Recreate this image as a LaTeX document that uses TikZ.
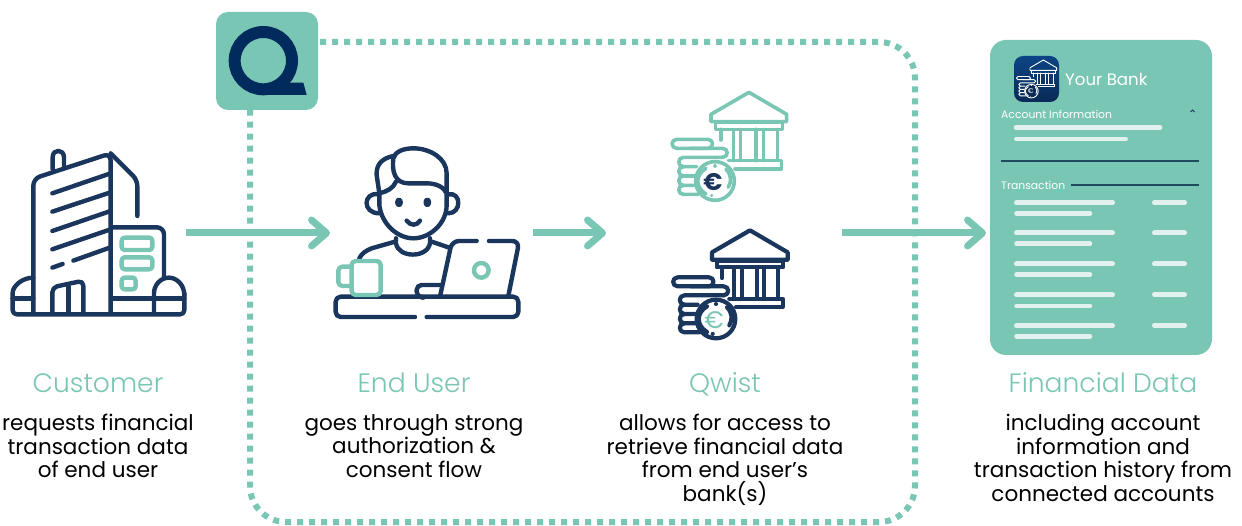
\documentclass[tikz,border=0pt]{standalone}
\usepackage{fontspec}
\setmainfont{Poppins}
\newfontfamily\headfont{Poppins Light}
\usetikzlibrary{arrows.meta}
\definecolor{teal1}{HTML}{7AC6B5}
\definecolor{navy1}{HTML}{1B365D}
\definecolor{qnavy}{HTML}{002B5C}
\definecolor{barc}{HTML}{E3F1EE}
\definecolor{rulec}{HTML}{1F4A5E}
\definecolor{icontop}{HTML}{0B4585}
\definecolor{iconbot}{HTML}{0A2A55}
\def\euroweight{}
\tikzset{
  flow/.style={draw=teal1,line width=7pt,-{Straight Barb[length=15pt,width=26pt,line width=7pt,round]}},
  frame/.style={draw=teal1,line width=6pt,dash pattern=on 6pt off 6pt},
  icon/.style={line width=4.4pt,line cap=round,line join=round,draw=navy1},
  iconteal/.style={line width=4.4pt,line cap=round,line join=round,draw=teal1},
  heading/.style={text=teal1,anchor=base,font=\headfont\fontsize{26.6}{28}\selectfont},
  body/.style={text=black,anchor=north,align=center,font=\fontsize{21.5}{23.5}\selectfont},
  bar/.style={draw=barc,line cap=round},
  paneltext/.style={text=white,anchor=west,inner sep=0pt}
}
% #1 x, #2 y, #3 unit, #4 bank colour, #5 euro colour, #6 line width, #7 euro size, #8 fill, #9 name
\newcommand{\bankicon}[9]{%
\begin{scope}[shift={(#1,#2)},x=#3pt,y=-#3pt,line width=#6pt,line join=round,line cap=round,draw=#4]
  \draw (297,37) -- (410,103) -- (410,125) -- (183,125) -- (183,103) -- cycle;
  \draw (197,128) rectangle (397,148);
  \draw (213,148) -- (213,180);
  \foreach \cx in {250,272,318,340,382} {\draw (\cx,148) -- (\cx,242);}
  \draw (235,242) -- (395,242) -- (395,267) -- (255,267);
  \draw (80,178) -- (174,178) .. controls (192,178) and (192,205) .. (174,205) -- (80,205) .. controls (62,205) and (62,178) .. (80,178) -- cycle;
  \draw (120,205) -- (218,205) .. controls (236,205) and (236,232) .. (218,232);
  \draw (218,232) -- (100,232) .. controls (82,232) and (82,260) .. (100,260) -- (140,260);
  \draw (100,260) .. controls (82,260) and (82,288) .. (100,288) -- (135,288);
  \draw (100,288) .. controls (82,288) and (82,316) .. (100,316) -- (135,316);
  \draw (100,316) .. controls (82,316) and (82,343) .. (100,343) -- (145,343);
  \draw[fill=#8] (195,303) circle (58);
  \draw (168,265) .. controls (135,285) and (135,322) .. (168,342);
  \draw (228,268) .. controls (245,285) and (245,305) .. (235,322);
  \draw (195,258) -- (195.1,258);
  \draw (185,347) -- (185.1,347);
  \node[inner sep=0pt,text=#5,font=\euroweight\fontsize{#7}{#7}\selectfont] (#9) at (189,305) {€};
\end{scope}}
\begin{document}
\begin{tikzpicture}[x=1pt,y=-1pt]
\useasboundingbox[fill=white] (0,0) rectangle (1242,526);

% dotted frame
\draw[frame,rounded corners=36pt] (320,42) -- (915,42) -- (915,522) -- (250,522) -- (250,105);

% building
\begin{scope}[shift={(0,130)},x=0.3333pt,y=-0.3333pt]
  \draw[iconteal,rounded corners=3pt] (365,323) rectangle (457,360);
  \draw[iconteal,rounded corners=3pt] (365,382) rectangle (457,418);
  \draw[iconteal,rounded corners=3pt] (365,443) rectangle (407,478);
  \begin{scope}[icon]
  \draw[rounded corners=7pt] (100,550) -- (100,146) -- (332,70) -- (332,550);
  \draw[rounded corners=6pt] (332,70) -- (412,150) -- (412,258);
  \draw (158,118) -- (158,82) .. controls (158,56) and (192,56) .. (192,82) -- (192,108);
  \draw (157,190) -- (332,130); \draw (157,245) -- (332,187);
  \draw (157,303) -- (332,243); \draw (157,358) -- (332,298);
  \draw (220,392) -- (332,352); \draw (157,413) -- (188,402);
  \draw[rounded corners=7pt] (335,292) -- (492,292) -- (492,440);
  \draw[rounded corners=5pt] (157,550) -- (157,472) -- (250,452) -- (250,550);
  \draw (205,470) -- (205,550);
  \draw[rounded corners=4pt] (100,443) .. controls (65,443) and (38,470) .. (38,500) -- (38,553) -- (553,553) -- (553,490);
  \draw (553,495) .. controls (553,465) and (530,443) .. (507,443) .. controls (482,443) and (462,465) .. (462,490) -- (462,550);
  \draw (38,505) -- (100,505); \draw (335,505) -- (553,505);
  \end{scope}
\end{scope}

% person
\begin{scope}[shift={(320,130)},x=0.3333pt,y=-0.3333pt]
  \begin{scope}[icon]
  \draw (178,190) -- (178,225) .. controls (185,285) and (235,325) .. (280,325) .. controls (330,325) and (380,280) .. (380,225) -- (380,130) .. controls (380,85) and (330,55) .. (280,55) .. controls (250,55) and (225,65) .. (220,85) .. controls (215,125) and (225,160) .. (265,160) -- (320,160) .. controls (350,160) and (372,172) .. (380,190);
  \draw (220,78) .. controls (185,85) and (168,105) .. (170,135) -- (178,190) .. controls (200,185) and (220,175) .. (228,155);
  \draw (175,193) .. controls (130,185) and (125,250) .. (178,250);
  \draw (385,193) .. controls (425,185) and (425,250) .. (385,250);
  \draw[fill=navy1] (237,217) ellipse (5 and 8);
  \draw[fill=navy1] (322,217) ellipse (5 and 8);
  \draw (260,272) .. controls (272,288) and (290,288) .. (300,272);
  \draw (228,325) -- (228,340) .. controls (235,385) and (322,385) .. (330,340) -- (330,325);
  \draw (225,335) -- (155,355) .. controls (138,362) and (125,370) .. (118,385);
  \draw (335,335) -- (385,352);
  \draw[rounded corners=7pt] (360,500) -- (396,333) -- (470,333);
  \draw[rounded corners=7pt] (507,333) -- (598,333) -- (565,498);
  \draw[rounded corners=5pt] (360,465) -- (290,465) -- (290,500) -- (310,503);
  \draw[rounded corners=5pt] (285,561) -- (47,561) -- (47,500) -- (595,500) -- (595,561) -- (320,561);
  \end{scope}
  \draw[iconteal] (484,421) circle (22);
  \draw[iconteal,rounded corners=4pt] (95,393) rectangle (182,495);
  \draw[iconteal,rounded corners=4pt] (95,410) -- (55,410) -- (55,468) -- (95,468);
\end{scope}

% banks
\def\euroweight{\bfseries}
\bankicon{650}{80}{0.3333}{teal1}{navy1}{3.6}{24}{white}{euroa}
\def\euroweight{}
\bankicon{651}{218}{0.3333}{navy1}{teal1}{4.2}{24}{white}{eurob}

% financial data panel
\node[fill=teal1,rounded corners=16pt,minimum width=222pt,minimum height=315pt,inner sep=0pt] (panel) at (1101,197.5) {};
\shade[top color=icontop,bottom color=iconbot,rounded corners=9pt] (1014,56) rectangle (1059,102);
\bankicon{1008.6}{55.7}{0.117}{white}{white}{0.9}{7}{iconbot}{euroc}
\node[paneltext,font=\fontsize{16.6}{19}\selectfont] (yourbank) at (1065,79) {Your Bank};
\node[paneltext,font=\fontsize{10.8}{12}\selectfont] (acct) at (1001,114) {Account Information};
\node[paneltext,font=\fontsize{10.8}{12}\selectfont] (trans) at (1001,185) {Transaction};
\draw[navy1,line width=1pt] (1190.5,112) -- (1192.5,110) -- (1194.5,112);
\draw[bar,line width=4.5pt] (1016,127.5) -- (1160,127.5);
\draw[bar,line width=3.8pt] (1016,139) -- (1126,139);
\draw[rulec,line width=1.7pt] (1001,160.7) -- (1199,160.7);
\draw[rulec,line width=1.7pt] (1071,185) -- (1199,185);
\foreach \a/\b/\c in {202.7/213.3/202.7,233/243.7/233,264/274.7/264,295/306/294.7,325.7/336.3/325.3} {
  \draw[bar,line width=5pt] (1016.5,\a) -- (1112.5,\a);
  \draw[bar,line width=4.5pt] (1016.5,\b) -- (1090,\b);
  \draw[bar,line width=5pt] (1154.5,\c) -- (1184.5,\c);
}

% logo
\node[fill=teal1,rounded corners=12pt,minimum width=102pt,minimum height=98pt,inner sep=0pt] (logo) at (267,61) {};
\begin{scope}[shift={(205,0)},x=0.3333pt,y=-0.3333pt]
  \draw[qnavy,line width=12pt] (175,182) circle (86);
  \fill[qnavy] (175,285) -- (305,285) -- (295,248) -- (240,248) -- cycle;
\end{scope}

% flow arrows
\coordinate (a1s) at (186,233); \coordinate (a1e) at (330,233);
\coordinate (a2s) at (533,233); \coordinate (a2e) at (606,233);
\coordinate (a3s) at (842,233); \coordinate (a3e) at (986,233);
\draw[flow] (a1s) -- (a1e);
\draw[flow] (a2s) -- (a2e);
\draw[flow] (a3s) -- (a3e);

% labels
\node[heading] (h1) at (98,392) {Customer};
\node[heading] (h2) at (414,392) {End User};
\node[heading] (h3) at (725,392) {Qwist};
\node[heading] (h4) at (1103,392) {Financial Data};
\node[body] (b1) at (98,411) {requests financial\\transaction data\\of end user};
\node[body] (b2) at (414,411) {goes through strong\\authorization \&\\consent flow};
\node[body] (b3) at (725,411) {allows for access to\\retrieve financial data\\from end user’s\\bank(s)};
\node[body] (b4) at (1103,411) {including account\\information and\\transaction history from\\connected accounts};
\end{tikzpicture}
\end{document}
